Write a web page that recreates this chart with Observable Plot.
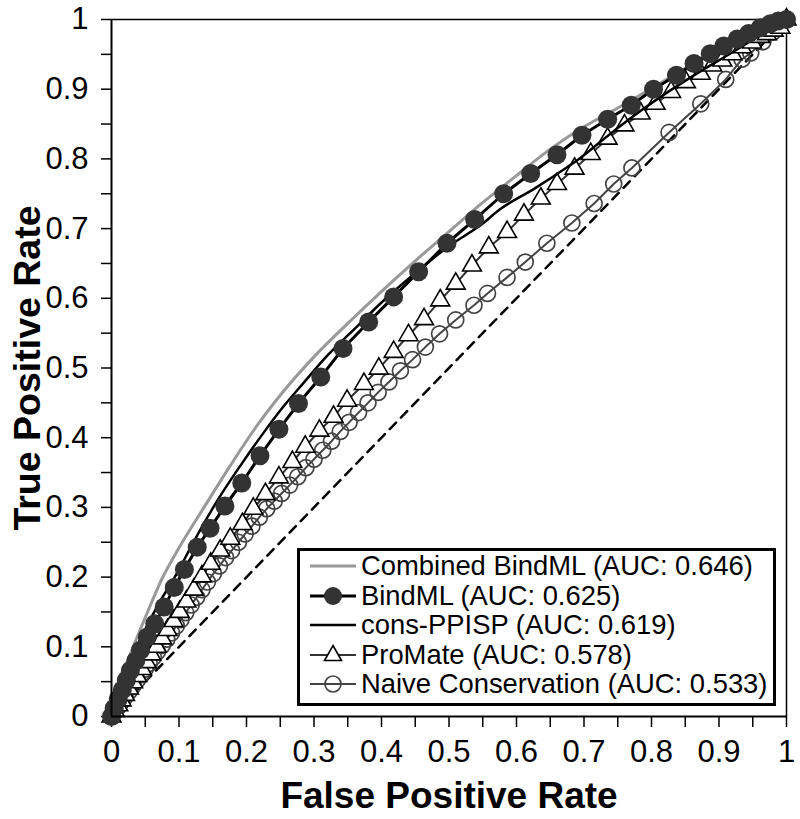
<!DOCTYPE html>
<html><head><meta charset="utf-8">
<script src="https://cdn.jsdelivr.net/npm/d3@7"></script>
<script src="https://cdn.jsdelivr.net/npm/@observablehq/plot@0.6"></script>
<style>
body{margin:0;background:#fff;}
#wrap{position:relative;width:800px;height:819px;font-family:"Liberation Sans",Arial,sans-serif;color:#000;}
#legend{position:absolute;left:297px;top:548px;width:473px;height:152px;border:3px solid #000;background:#fff;}
.row{position:absolute;left:0;height:30px;display:flex;align-items:center;}
.row svg{margin-left:10px;flex:none;}
.row span{font-size:27.4px;margin-left:5px;white-space:nowrap;line-height:30px;}
</style></head><body><div id="wrap"></div>
<script>
// ---- data ----
const seriesNames = ["Combined BindML (AUC: 0.646)","BindML (AUC: 0.625)","cons-PPISP (AUC: 0.619)","ProMate (AUC: 0.578)","Naive Conservation (AUC: 0.533)"];

const combinedX = [0,0.006,0.026,0.050,0.075,0.100,0.137,0.176,0.216,0.250,0.300,0.349,0.399,0.448,0.497,0.547,0.600,0.650,0.700,0.750,0.800,0.850,0.900,0.950,1];
const combinedY = [0,0.033,0.085,0.142,0.198,0.242,0.300,0.360,0.418,0.461,0.516,0.563,0.609,0.652,0.693,0.735,0.776,0.814,0.846,0.873,0.901,0.930,0.958,0.982,1];

const bindmlX = [0,0.004,0.010,0.016,0.022,0.028,0.036,0.043,0.053,0.064,0.078,0.093,0.108,0.127,0.146,0.168,0.193,0.220,0.248,0.277,0.310,0.343,0.381,0.418,0.455,0.497,0.538,0.581,0.621,0.660,0.697,0.735,0.770,0.803,0.837,0.863,0.887,0.907,0.927,0.944,0.961,0.976,0.988,1];
const bindmlY = [0,0.012,0.025,0.038,0.052,0.066,0.080,0.095,0.114,0.133,0.157,0.185,0.211,0.243,0.270,0.302,0.335,0.374,0.412,0.449,0.487,0.528,0.566,0.602,0.638,0.679,0.713,0.750,0.779,0.806,0.834,0.857,0.877,0.900,0.920,0.937,0.951,0.962,0.972,0.980,0.988,0.994,0.998,1];

const consX = [0,0.010,0.030,0.050,0.070,0.092,0.127,0.157,0.191,0.226,0.255,0.284,0.320,0.360,0.400,0.450,0.500,0.547,0.576,0.626,0.675,0.690,0.735,0.784,0.829,0.873,0.920,0.960,1];
const consY = [0,0.035,0.085,0.125,0.162,0.197,0.260,0.310,0.360,0.408,0.445,0.478,0.518,0.556,0.594,0.636,0.675,0.705,0.728,0.757,0.788,0.798,0.833,0.869,0.899,0.926,0.953,0.977,1];

const promateX = [0,0.005,0.010,0.015,0.020,0.026,0.032,0.038,0.045,0.052,0.059,0.067,0.075,0.083,0.092,0.101,0.111,0.122,0.134,0.147,0.161,0.176,0.194,0.210,0.228,0.248,0.268,0.287,0.308,0.329,0.349,0.374,0.396,0.418,0.440,0.463,0.487,0.510,0.534,0.559,0.586,0.611,0.636,0.660,0.686,0.710,0.735,0.760,0.784,0.806,0.829,0.851,0.873,0.890,0.905,0.920,0.934,0.949,0.961,0.971,0.981,0.991,1];
const promateY = [0,0.008,0.016,0.023,0.031,0.040,0.049,0.058,0.068,0.078,0.089,0.100,0.112,0.124,0.137,0.150,0.165,0.182,0.201,0.219,0.238,0.255,0.276,0.298,0.319,0.343,0.365,0.387,0.410,0.430,0.453,0.477,0.499,0.523,0.547,0.570,0.597,0.621,0.647,0.673,0.695,0.720,0.743,0.764,0.786,0.807,0.829,0.848,0.865,0.879,0.896,0.910,0.922,0.934,0.941,0.950,0.960,0.967,0.975,0.979,0.984,0.988,1];

const naiveX = [0,0.005,0.010,0.015,0.020,0.026,0.032,0.038,0.044,0.050,0.056,0.062,0.068,0.075,0.082,0.089,0.096,0.103,0.110,0.118,0.126,0.134,0.142,0.151,0.160,0.169,0.178,0.188,0.198,0.208,0.219,0.230,0.241,0.252,0.264,0.276,0.288,0.300,0.313,0.326,0.339,0.352,0.366,0.380,0.395,0.411,0.428,0.446,0.465,0.486,0.510,0.537,0.557,0.586,0.613,0.645,0.682,0.715,0.744,0.771,0.826,0.873,0.910,0.934,0.947,0.965,0.980,1];
const naiveY = [0,0.007,0.014,0.021,0.028,0.036,0.044,0.052,0.060,0.068,0.076,0.085,0.093,0.102,0.111,0.120,0.130,0.139,0.149,0.160,0.171,0.182,0.193,0.205,0.216,0.228,0.238,0.250,0.262,0.273,0.286,0.298,0.309,0.320,0.332,0.344,0.357,0.369,0.382,0.395,0.409,0.422,0.436,0.450,0.465,0.480,0.496,0.512,0.530,0.549,0.569,0.590,0.607,0.630,0.652,0.679,0.708,0.736,0.764,0.787,0.838,0.879,0.914,0.943,0.952,0.968,0.982,1];

const diagonal = [0, 1];
const xTickLabels = [0,0.1,0.2,0.3,0.4,0.5,0.6,0.7,0.8,0.9,1];
const yTickLabels = [0,0.1,0.2,0.3,0.4,0.5,0.6,0.7,0.8,0.9,1];
const minorTicks = [0.05,0.15,0.25,0.35,0.45,0.55,0.65,0.75,0.85,0.95];
const xTitle = "False Positive Rate";
const yTitle = "True Positive Rate";

const tbl = (xs, ys) => xs.map((x, i) => ({x, y: ys[i]}));
const combined = tbl(combinedX, combinedY);
const bindml = tbl(bindmlX, bindmlY);
const cons = tbl(consX, consY);
const promate = tbl(promateX, promateY);
const naive = tbl(naiveX, naiveY);
const fmt = d => String(d);

const chart = Plot.plot({
  width: 800, height: 819,
  marginLeft: 111, marginRight: 14, marginTop: 19, marginBottom: 103,
  style: {fontFamily: '"Liberation Sans", Arial, sans-serif', color: "#000", background: "#fff"},
  x: {domain: [0, 1]},
  y: {domain: [0, 1]},
  marks: [
    Plot.axisX(xTickLabels, {tickSize: 11, tickPadding: 12, fontSize: 31, tickFormat: fmt, strokeWidth: 1.5, label: null}),
    Plot.axisX(minorTicks, {tickSize: 11, tickFormat: () => "", strokeWidth: 1.5, label: null}),
    Plot.axisY(yTickLabels, {tickSize: 10, tickPadding: 13, fontSize: 31, tickFormat: fmt, strokeWidth: 1.5, label: null}),
    Plot.axisY(minorTicks, {tickSize: 10, tickFormat: () => "", strokeWidth: 1.5, label: null}),
    Plot.ruleY([1], {stroke: "#000", strokeWidth: 1.5}),
    Plot.ruleX([1], {stroke: "#000", strokeWidth: 1.5}),
    Plot.line(diagonal, {x: d => d, y: d => d, stroke: "#000", strokeWidth: 2.5, strokeDasharray: "9,7"}),
    Plot.line(naive, {x: "x", y: "y", stroke: "#444", strokeWidth: 2}),
    Plot.dot(naive, {x: "x", y: "y", r: 8, stroke: "#444", strokeWidth: 1.7, fill: "none"}),
    Plot.line(promate, {x: "x", y: "y", stroke: "#333", strokeWidth: 2}),
    Plot.dot(promate, {x: "x", y: "y", symbol: "triangle", r: 7, fill: "#fff", stroke: "#000", strokeWidth: 1.6}),
    Plot.line(cons, {x: "x", y: "y", stroke: "#000", strokeWidth: 2.5, curve: "monotone-x"}),
    Plot.line(combined, {x: "x", y: "y", stroke: "#999", strokeWidth: 3, curve: "monotone-x"}),
    Plot.line(bindml, {x: "x", y: "y", stroke: "#000", strokeWidth: 3}),
    Plot.dot(bindml, {x: "x", y: "y", r: 9.5, fill: "#333", stroke: "none"}),
    Plot.ruleY([0], {stroke: "#000", strokeWidth: 2}),
    Plot.ruleX([0], {stroke: "#000", strokeWidth: 2}),
    Plot.text([xTitle], {frameAnchor: "bottom", dy: 91, fontSize: 37, fontWeight: "bold", fill: "#000"}),
    Plot.text([yTitle], {frameAnchor: "left", textAnchor: "middle", dx: -84, rotate: -90, fontSize: 37.5, fontWeight: "bold", fill: "#000"})
  ]
});

const wrap = document.getElementById("wrap");
wrap.appendChild(chart);

// legend
const legend = document.createElement("div");
legend.id = "legend";
const samples = [
  `<line x1="0" y1="15" x2="46" y2="15" stroke="#999" stroke-width="3"/>`,
  `<line x1="0" y1="15" x2="46" y2="15" stroke="#000" stroke-width="3"/><circle cx="23" cy="15" r="9" fill="#333"/>`,
  `<line x1="0" y1="15" x2="46" y2="15" stroke="#000" stroke-width="2.5"/>`,
  `<line x1="0" y1="15" x2="46" y2="15" stroke="#333" stroke-width="2"/><path d="M23,5.5L31.5,20.5L14.5,20.5Z" fill="#fff" stroke="#000" stroke-width="1.6"/>`,
  `<line x1="0" y1="15" x2="46" y2="15" stroke="#444" stroke-width="2"/><circle cx="23" cy="15" r="8" fill="none" stroke="#444" stroke-width="1.7"/>`
];
const rowCenters = [15, 45, 74, 104, 133];
seriesNames.forEach((name, i) => {
  const row = document.createElement("div");
  row.className = "row";
  row.style.top = (rowCenters[i] - 15) + "px";
  row.innerHTML = `<svg width="46" height="30">${samples[i]}</svg><span>${name}</span>`;
  legend.appendChild(row);
});
wrap.appendChild(legend);
</script></body></html>
